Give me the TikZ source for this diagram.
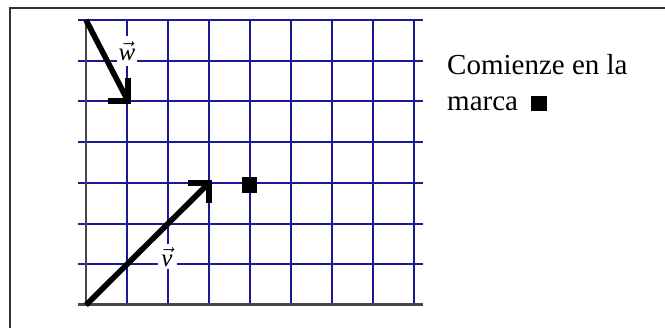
\documentclass[tikz,border=0pt]{standalone}
\usepackage{fontspec}
\setmainfont{Liberation Serif}
\definecolor{gridblue}{RGB}{25,25,150}
\definecolor{axisgray}{RGB}{70,70,70}
\definecolor{framegray}{RGB}{50,50,50}
\newcommand{\veclab}[1]{\scalebox{2.5}{$\vec{\mbox{\itshape #1}}$}}
\begin{document}
\begin{tikzpicture}[x=1pt,y=-1pt,
  gridline/.style={draw=gridblue,line width=2pt},
  axisline/.style={draw=axisgray,line width=2.6pt},
  vec/.style={draw=black,line width=5.6pt,line join=miter},
  veclabel/.style={fill=white,inner sep=0pt},
  maintext/.style={inner sep=0pt,anchor=base west,font=\fontsize{29}{35}\selectfont}]
\useasboundingbox (0,0) rectangle (665,328);
% outer frame
\draw[framegray,line width=2.4pt] (10,328) -- (10,8) -- (665,8);
% grid
\foreach \k in {1,...,8}{
  \draw[gridline] ({86+41*\k},20) -- ({86+41*\k},305);
}
\foreach \k in {1,...,7}{
  \draw[gridline] (78,{305-40.7*\k}) -- (423,{305-40.7*\k});
}
% axes
\draw[axisline] (86,20) -- (86,305);
\draw[axisline,line width=3pt] (78,305) -- (423,305);
% labels
\node[veclabel,minimum width=20pt,minimum height=30pt] (lw) at (127,51) {\veclab{w}};
\node[veclabel,minimum width=19pt,minimum height=25pt] (lv) at (167,257) {\veclab{v}};
% points
\coordinate (O) at (86,305);
\coordinate (V) at (209,183);
\coordinate (W0) at (86,20);
\coordinate (W1) at (128,101);
% vectors
\draw[vec] (O) -- (V);
\draw[vec] ([xshift=-21pt]V) -- (V) -- ([yshift=-20pt]V);
\draw[vec] (W0) -- (W1);
\draw[vec] ([xshift=-20pt]W1) -- (W1) -- ([yshift=23pt]W1);
% mark
\node[fill=black,inner sep=0pt,minimum width=15pt,minimum height=16pt] (mark) at (249,185) {};
% text
\node[maintext] (t1) at (447,75) {Comienze en la};
\node[maintext] (t2) at (447,111) {marca\hspace{13pt}\rule{16pt}{15pt}};
\end{tikzpicture}
\end{document}
